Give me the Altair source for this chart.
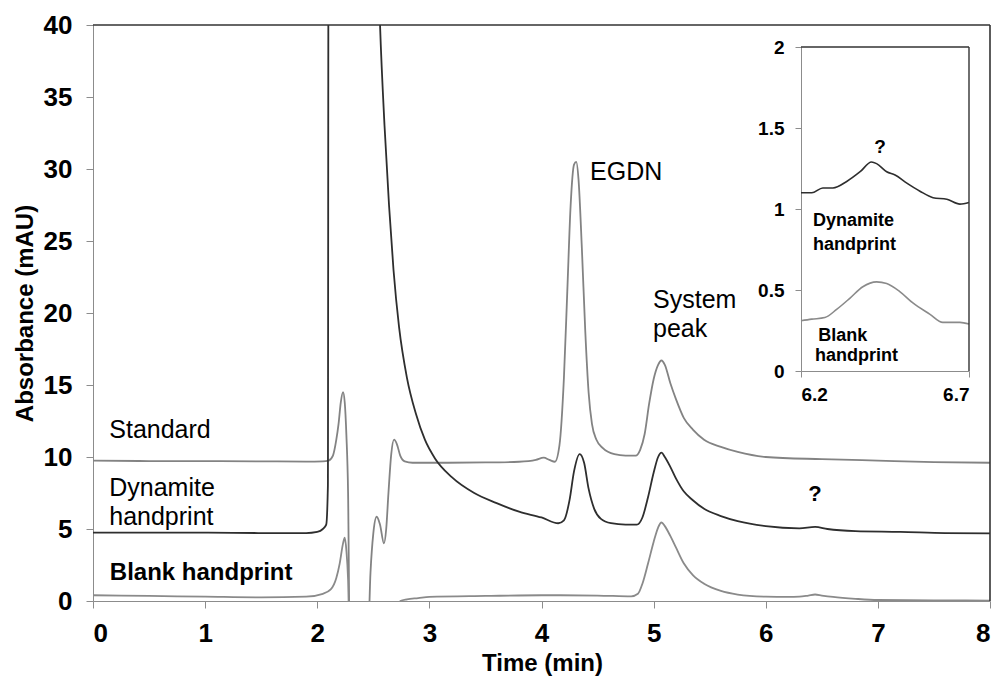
import altair as alt
import pandas as pd

# ---------------- main chromatogram data (time in min, absorbance in mAU) ----------------
std_t = [0.0, 0.5, 1.0, 1.5, 1.9, 2.05, 2.10, 2.14, 2.17, 2.19, 2.21, 2.23, 2.245, 2.26, 2.275, 2.29,
         2.45, 2.475, 2.50, 2.53, 2.56, 2.595, 2.615, 2.635, 2.66, 2.685, 2.71, 2.74, 2.78, 2.85, 3.0,
         3.5, 3.8, 3.95, 4.02, 4.07, 4.12, 4.16, 4.20, 4.23, 4.26, 4.29, 4.31, 4.33, 4.36, 4.39, 4.42,
         4.45, 4.49, 4.55, 4.65, 4.75, 4.84, 4.88, 4.92, 4.96, 5.0, 5.04, 5.07, 5.10, 5.15, 5.2, 5.27,
         5.35, 5.45, 5.6, 5.75, 6.0, 6.5, 7.0, 7.5, 8.0]
std_v = [9.75, 9.72, 9.72, 9.70, 9.68, 9.70, 9.75, 10.1, 11.2, 12.3, 13.8, 14.5, 13.8, 11.5, 7.5, -3,
         -3, 2.0, 4.7, 5.85, 5.3, 4.0, 5.0, 7.5, 10.2, 11.2, 10.9, 10.1, 9.7, 9.6, 9.6,
         9.62, 9.67, 9.8, 9.95, 9.8, 9.67, 10.8, 15.5, 21.5, 27.5, 30.3, 30.5, 29.3, 24.5, 18.8, 14.5,
         12.3, 11.2, 10.6, 10.2, 10.1, 10.1, 10.5, 11.6, 13.7, 15.4, 16.4, 16.7, 16.4, 15.1, 14.0, 12.7,
         11.9, 11.2, 10.7, 10.35, 10.0, 9.85, 9.75, 9.65, 9.6]

dyn_t = [0.0, 0.5, 1.0, 1.5, 1.9, 2.0, 2.05, 2.08, 2.095, 2.10, 2.54, 2.56, 2.60, 2.64, 2.68, 2.73,
         2.80, 2.88, 2.96, 3.05, 3.2, 3.4, 3.6, 3.8, 4.0, 4.15, 4.2, 4.25, 4.29, 4.34, 4.38, 4.42,
         4.47, 4.53, 4.62, 4.75, 4.85, 4.90, 4.95, 5.0, 5.04, 5.07, 5.10, 5.15, 5.2, 5.27, 5.35, 5.45,
         5.6, 5.75, 6.0, 6.3, 6.44, 6.55, 6.8, 7.2, 7.6, 8.0]
dyn_v = [4.75, 4.75, 4.75, 4.72, 4.72, 4.8, 5.0, 5.3, 8.0, 45, 45, 40, 33, 27.5, 23.0, 19.0,
         15.5, 13.0, 11.2, 9.9, 8.6, 7.5, 6.8, 6.2, 5.8, 5.4, 5.6, 7.0, 9.0, 10.2, 9.6, 7.8,
         6.4, 5.7, 5.4, 5.3, 5.3, 5.8, 7.2, 8.9, 10.0, 10.3, 10.0, 9.3, 8.5, 7.6, 7.0, 6.4,
         5.9, 5.55, 5.2, 5.05, 5.15, 5.0, 4.85, 4.8, 4.72, 4.7]

blk_t = [0.0, 0.5, 1.0, 1.5, 1.9, 2.05, 2.12, 2.17, 2.20, 2.23, 2.245, 2.26, 2.275, 2.29, 2.70, 2.74,
         2.80, 2.9, 3.0, 3.5, 4.0, 4.5, 4.8, 4.86, 4.90, 4.95, 5.0, 5.04, 5.07, 5.10, 5.15, 5.2,
         5.27, 5.35, 5.45, 5.6, 5.75, 6.0, 6.2, 6.3, 6.38, 6.44, 6.5, 6.6, 6.8, 7.0, 7.5, 8.0]
blk_v = [0.40, 0.35, 0.30, 0.25, 0.30, 0.5, 0.8, 1.6, 2.6, 4.0, 4.4, 3.5, 1.5, -3, -3, 0.0,
         0.12, 0.2, 0.28, 0.35, 0.4, 0.38, 0.32, 0.5, 1.2, 2.6, 4.1, 5.1, 5.45, 5.2, 4.5, 3.7,
         2.6, 1.8, 1.2, 0.7, 0.45, 0.3, 0.28, 0.3, 0.38, 0.45, 0.38, 0.28, 0.15, 0.07, 0.05, 0.02]

# ---------------- inset data (6.2 - 6.7 min) ----------------
in_dyn_t = [6.2, 6.232, 6.265, 6.295, 6.336, 6.376, 6.410, 6.425, 6.455, 6.480, 6.515, 6.554, 6.593, 6.634, 6.673, 6.70]
in_dyn_v = [1.10, 1.10, 1.13, 1.13, 1.17, 1.23, 1.29, 1.28, 1.23, 1.21, 1.16, 1.11, 1.07, 1.06, 1.03, 1.04]
in_blk_t = [6.2, 6.232, 6.271, 6.306, 6.346, 6.384, 6.425, 6.455, 6.494, 6.533, 6.584, 6.622, 6.673, 6.70]
in_blk_v = [0.31, 0.32, 0.33, 0.38, 0.45, 0.52, 0.55, 0.54, 0.49, 0.42, 0.35, 0.30, 0.30, 0.29]

series_names = ["Standard", "Dynamite handprint", "Blank handprint"]
series_colors = ["#838383", "#2e2e2e", "#8a8a8a"]

main_df = pd.concat([
    pd.DataFrame({"t": std_t, "v": std_v, "series": "Standard"}),
    pd.DataFrame({"t": dyn_t, "v": dyn_v, "series": "Dynamite handprint"}),
    pd.DataFrame({"t": blk_t, "v": blk_v, "series": "Blank handprint"}),
])
inset_df = pd.concat([
    pd.DataFrame({"t": in_dyn_t, "v": in_dyn_v, "series": "Dynamite handprint"}),
    pd.DataFrame({"t": in_blk_t, "v": in_blk_v, "series": "Blank handprint"}),
])

# annotations (data coordinates)
ann_reg = pd.DataFrame({
    "t": [0.145, 0.145, 0.145, 4.433, 4.995, 4.995],
    "v": [11.9, 7.85, 5.85, 29.8, 20.9, 18.9],
    "label": ["Standard", "Dynamite", "handprint", "EGDN", "System", "peak"],
})
ann_bold = pd.DataFrame({"t": [0.15], "v": [1.94], "label": ["Blank handprint"]})
ann_q = pd.DataFrame({"t": [6.44], "v": [7.45], "label": ["?"]})

in_ann = pd.DataFrame({
    "t": [6.236, 6.236, 6.251, 6.242],
    "v": [0.925, 0.78, 0.216, 0.09],
    "label": ["Dynamite", "handprint", "Blank", "handprint"],
})
in_q = pd.DataFrame({"t": [6.435], "v": [1.383], "label": ["?"]})

W, H = 897, 576
FONT = "Liberation Sans"
GRAY = "#8c8c8c"
DARK = "#333333"

xs = alt.Scale(domain=[0, 8], nice=False, zero=False)
ys = alt.Scale(domain=[0, 40], nice=False, zero=False)
cs = alt.Scale(domain=series_names, range=series_colors)

x_axis = alt.Axis(values=list(range(9)), format="d", grid=False, title="Time (min)",
                  labelFont=FONT, labelFontWeight="bold", labelFontSize=26, labelColor="black",
                  labelBaseline="middle", labelPadding=25, tickSize=7, tickColor=GRAY,
                  domainColor=GRAY, titleFont=FONT, titleFontSize=24, titleFontWeight="bold",
                  titleColor="black", titleX=449, titleY=62, titleBaseline="middle", titleAlign="center")
y_axis = alt.Axis(values=list(range(0, 41, 5)), format="d", grid=False, title="Absorbance (mAU)",
                  labelFont=FONT, labelFontWeight="bold", labelFontSize=26, labelColor="black",
                  labelPadding=14, tickSize=7, tickColor=GRAY, domainColor=GRAY,
                  titleFont=FONT, titleFontSize=24, titleFontWeight="bold", titleColor="black",
                  titleX=-68, titleY=288, titleAngle=-90, titleBaseline="middle", titleAlign="center")

main_lines = alt.Chart(main_df).mark_line(clip=True, strokeWidth=1.8, interpolate="monotone").encode(
    x=alt.X("t:Q", scale=xs, axis=x_axis),
    y=alt.Y("v:Q", scale=ys, axis=y_axis),
    color=alt.Color("series:N", scale=cs, legend=None),
    detail="series:N",
)

def txt(df, size, weight):
    return alt.Chart(df).mark_text(font=FONT, fontSize=size, fontWeight=weight, align="left",
                                   baseline="middle", color="black").encode(
        x=alt.X("t:Q", scale=xs), y=alt.Y("v:Q", scale=ys), text="label:N")

main_text = txt(ann_reg, 25, "normal")
main_bold = txt(ann_bold, 24, "bold")
main_q = alt.Chart(ann_q).mark_text(font=FONT, fontSize=22, fontWeight="bold", align="center",
                                    baseline="middle", color="black").encode(
    x=alt.X("t:Q", scale=xs), y=alt.Y("v:Q", scale=ys), text="label:N")

one = pd.DataFrame({"a": [0]})
frame_top = alt.Chart(one).mark_rule(color=DARK, strokeWidth=1.6).encode(
    x=alt.value(0), x2=alt.value(W), y=alt.value(0))
frame_right = alt.Chart(one).mark_rule(color=DARK, strokeWidth=1.6).encode(
    x=alt.value(W), y=alt.value(0), y2=alt.value(H))

main = alt.layer(main_lines, main_text, main_bold, main_q, frame_top, frame_right)

# ---------------- inset ----------------
ixs = alt.Scale(domain=[6.2, 6.7], range=[708, 876], nice=False, zero=False)
iys = alt.Scale(domain=[0, 2], range=[346, 22], nice=False, zero=False)
ix_axis = alt.Axis(orient="bottom", offset=-230, values=[6.2, 6.7], format=".1f", grid=False, title=None,
                   labelFont=FONT, labelFontWeight="bold", labelFontSize=19, labelColor="black",
                   labelBaseline="middle", labelPadding=17, tickSize=6, tickColor=GRAY, domainColor=GRAY)
iy_axis = alt.Axis(orient="left", offset=-708, values=[0, 0.5, 1, 1.5, 2], format="~g", grid=False,
                   title=None, labelFont=FONT, labelFontWeight="bold", labelFontSize=19,
                   labelColor="black", labelPadding=11, tickSize=6, tickColor=GRAY, domainColor=GRAY)

inset_lines = alt.Chart(inset_df).mark_line(strokeWidth=1.6, interpolate="monotone").encode(
    x=alt.X("t:Q", scale=ixs, axis=ix_axis),
    y=alt.Y("v:Q", scale=iys, axis=iy_axis),
    color=alt.Color("series:N", scale=cs, legend=None),
    detail="series:N",
)
inset_text = alt.Chart(in_ann).mark_text(font=FONT, fontSize=18, fontWeight="bold", align="left",
                                         baseline="middle", color="black").encode(
    x=alt.X("t:Q", scale=ixs), y=alt.Y("v:Q", scale=iys), text="label:N")
inset_q = alt.Chart(in_q).mark_text(font=FONT, fontSize=19, fontWeight="bold", align="center",
                                    baseline="middle", color="black").encode(
    x=alt.X("t:Q", scale=ixs), y=alt.Y("v:Q", scale=iys), text="label:N")
inset_top = alt.Chart(one).mark_rule(color=DARK, strokeWidth=1.4).encode(
    x=alt.datum(6.2, scale=ixs), x2=alt.datum(6.7), y=alt.datum(2, scale=iys))
inset_right = alt.Chart(one).mark_rule(color=DARK, strokeWidth=1.4).encode(
    x=alt.datum(6.7, scale=ixs), y=alt.datum(0, scale=iys), y2=alt.datum(2))

inset = alt.layer(inset_lines, inset_text, inset_q, inset_top, inset_right)

chart = alt.layer(main, inset).resolve_scale(x="independent", y="independent", color="shared").properties(
    width=W, height=H,
    autosize=alt.AutoSizeParams(type="none"),
    padding={"left": 93, "top": 25, "right": 8, "bottom": 83},
    background="white",
).configure_view(stroke=None)

chart.save("out.html", embed_options={"renderer": "svg", "actions": False})
